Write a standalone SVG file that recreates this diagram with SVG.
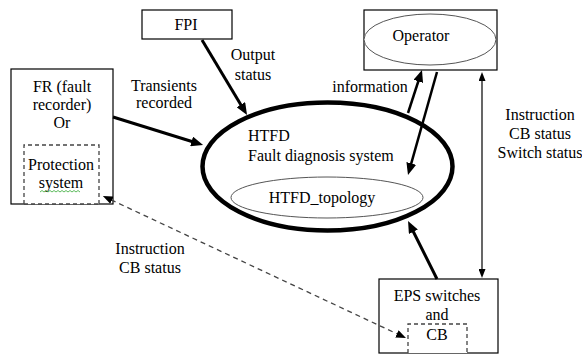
<svg xmlns="http://www.w3.org/2000/svg" width="582" height="354" viewBox="0 0 582 354">
<style>
text{font-family:"Liberation Serif","Times New Roman",serif;font-size:16px;fill:#000}
.c{text-anchor:middle}
.box{fill:#fff;stroke:#000;stroke-width:1.2}
.dbox{fill:#fff;stroke:#444;stroke-width:1.3;stroke-dasharray:4,3}
.thick{fill:none;stroke:#000;stroke-width:3}
.med{fill:none;stroke:#000;stroke-width:2.5}
.thin{fill:none;stroke:#000;stroke-width:1.2}
.dash{fill:none;stroke:#444;stroke-width:1.3;stroke-dasharray:5,4}
</style>
<defs>
<marker id="big" markerUnits="userSpaceOnUse" markerWidth="12" markerHeight="10" refX="2" refY="5" orient="auto"><path d="M0,0 L12,5 L0,10 z" fill="#000"/></marker>
<marker id="sm" markerUnits="userSpaceOnUse" markerWidth="9" markerHeight="7" refX="1" refY="3.5" orient="auto-start-reverse"><path d="M0,0 L9,3.5 L0,7 z" fill="#000"/></marker>
<marker id="dm" markerUnits="userSpaceOnUse" markerWidth="10" markerHeight="8" refX="1" refY="4" orient="auto-start-reverse"><path d="M0,0 L10,4 L0,8 z" fill="#000"/></marker>
</defs>

<g id="htfd">
<ellipse cx="327.5" cy="166.5" rx="125" ry="64" fill="#fff" stroke="#000" stroke-width="4.5"/>
<text x="248" y="141">HTFD</text>
<text x="248" y="161">Fault diagnosis system</text>
</g>
<g id="htfd_topology">
<ellipse cx="327" cy="197.5" rx="96" ry="20.5" fill="#fff" stroke="#555" stroke-width="1"/>
<text class="c" x="322" y="203">HTFD_topology</text>
</g>

<g id="fr">
<rect class="box" x="11" y="69" width="102" height="135"/>
<text class="c" x="62" y="92">FR (fault</text>
<text class="c" x="62" y="110">recorder)</text>
<text class="c" x="62" y="128">Or</text>
</g>
<g id="protection">
<path d="M24,204 V145 H99 V204" class="dbox"/>
<line x1="24" y1="204" x2="99" y2="204" stroke="#444" stroke-width="1.3" stroke-dasharray="4,3"/>
<text class="c" x="61" y="170">Protection</text>
<text class="c" x="61" y="188">system</text>
<path d="M40,192 l2,-1.5 l2,1.5 l2,-1.5 l2,1.5 l2,-1.5 l2,1.5 l2,-1.5 l2,1.5 l2,-1.5 l2,1.5 l2,-1.5 l2,1.5 l2,-1.5 l2,1.5 l2,-1.5 l2,1.5 l2,-1.5 l2,1.5 l2,-1.5 l2,1.5" fill="none" stroke="#3a3" stroke-width="0.8"/>
</g>

<g id="fpi">
<rect class="box" x="142" y="10" width="90" height="29"/>
<text class="c" x="186" y="30">FPI</text>
</g>

<g id="operator">
<rect class="box" x="364" y="10" width="133" height="60"/>
<ellipse cx="430" cy="39.5" rx="66" ry="25.5" fill="#fff" stroke="#555" stroke-width="1"/>
<text class="c" x="421" y="41">Operator</text>
</g>

<g id="eps">
<rect class="box" x="379" y="279" width="119" height="74"/>
<text class="c" x="437" y="301">EPS switches</text>
<text class="c" x="437" y="320">and</text>
</g>
<g id="cb">
<path d="M408,353 V324 H467 V353" class="dbox"/>
<text class="c" x="437" y="340">CB</text>
</g>

<g id="connectors">
<line class="thick" x1="113" y1="117" x2="193.5" y2="142" marker-end="url(#big)"/>
<line class="thick" x1="202" y1="40" x2="241.9" y2="106.4" marker-end="url(#big)"/>
<line class="med" x1="408" y1="113" x2="418.9" y2="79.5" marker-end="url(#big)"/>
<line class="med" x1="437" y1="72" x2="410.7" y2="165.4" marker-end="url(#big)"/>
<line class="thick" x1="437" y1="279" x2="412.5" y2="230" marker-end="url(#big)"/>
<line class="thin" x1="482" y1="80" x2="482" y2="270" marker-start="url(#sm)" marker-end="url(#sm)"/>
<line class="dash" x1="111" y1="199.8" x2="397.8" y2="334.2" marker-start="url(#dm)" marker-end="url(#dm)"/>
<text class="c" x="164" y="91">Transients</text>
<text class="c" x="164" y="108">recorded</text>
<text class="c" x="253" y="60">Output</text>
<text class="c" x="253" y="80">status</text>
<text class="c" x="370" y="92">information</text>
<text class="c" x="540" y="120">Instruction</text>
<text class="c" x="540" y="139">CB status</text>
<text class="c" x="540" y="158">Switch status</text>
<text class="c" x="150" y="254">Instruction</text>
<text class="c" x="150" y="273">CB status</text>
</g>
</svg>
